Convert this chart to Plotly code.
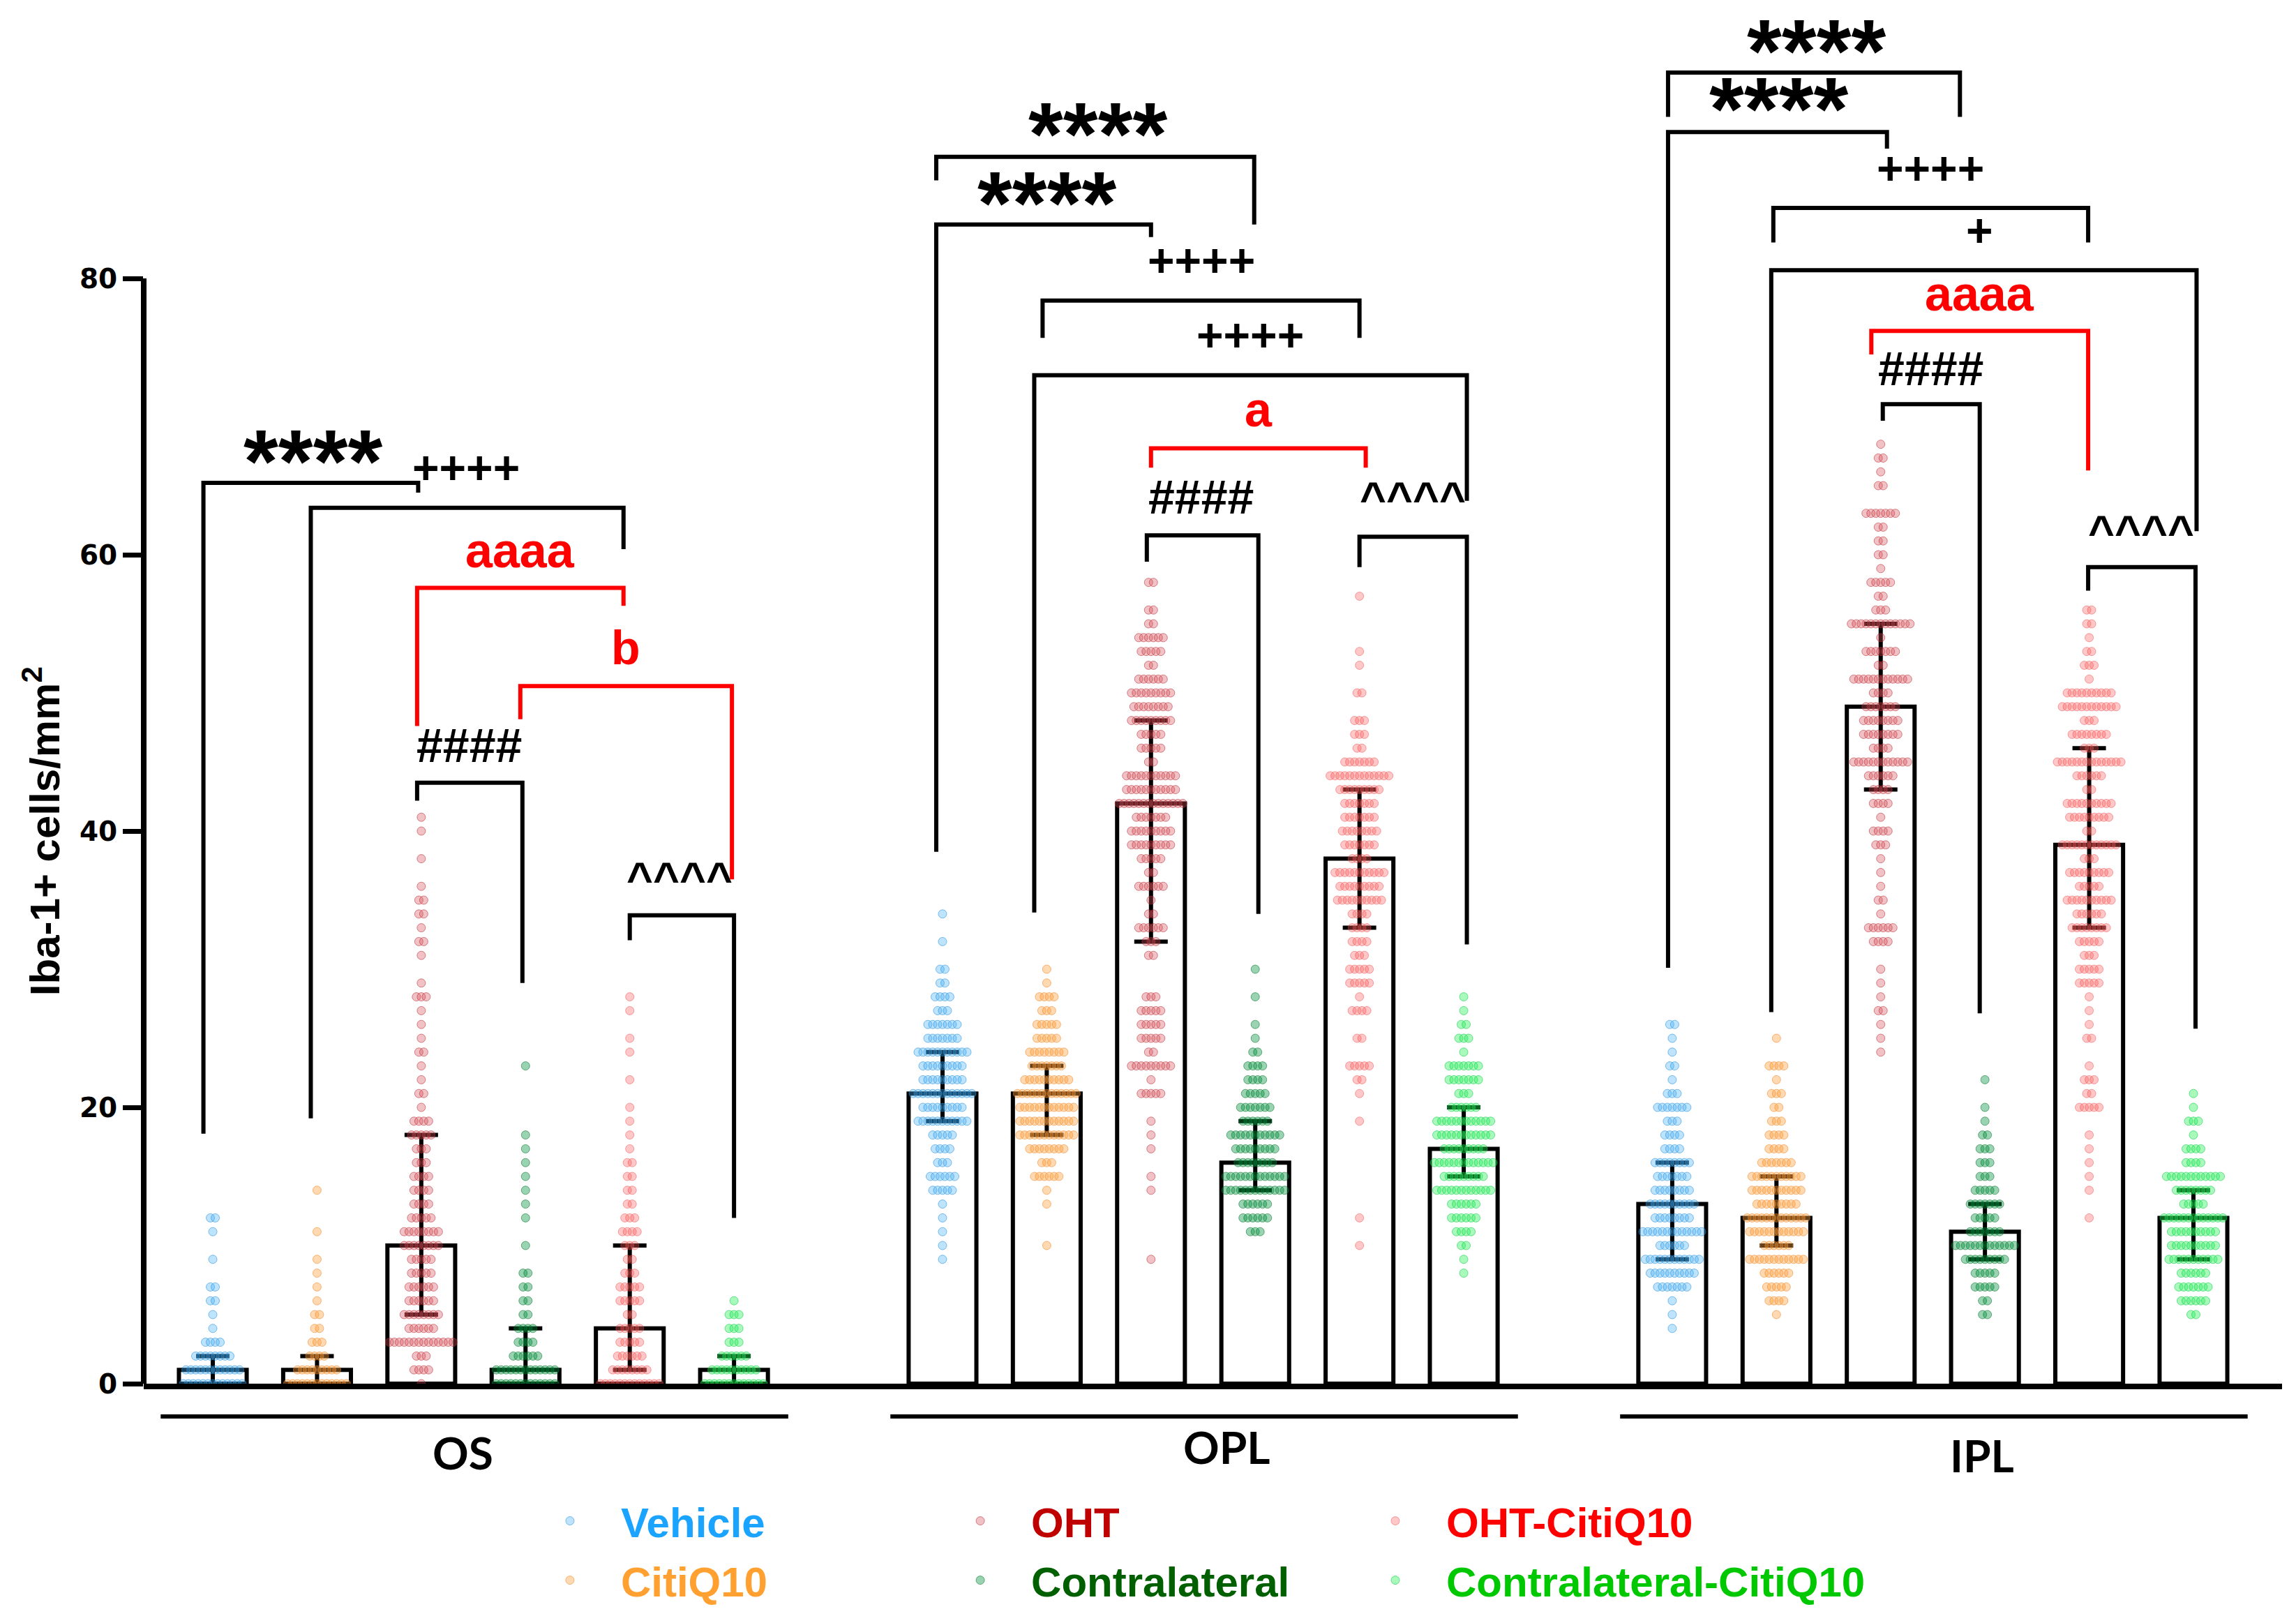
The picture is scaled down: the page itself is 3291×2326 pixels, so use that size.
import plotly.graph_objects as go

# ---------------- data ----------------
GROUPS = ["Vehicle", "CitiQ10", "OHT", "Contralateral", "OHT-CitiQ10", "Contralateral-CitiQ10"]
REGIONS = ["OS", "OPL", "IPL"]

# bar heights (median) and error-bar limits (interquartile range)
OS_MEDIAN = [1, 1, 10, 1, 4, 1]
OS_Q1 = [0, 0, 5, 0, 1, 0]
OS_Q3 = [2, 2, 18, 4, 10, 2]
OPL_MEDIAN = [21, 21, 42, 16, 38, 17]
OPL_Q1 = [19, 18, 32, 14, 33, 15]
OPL_Q3 = [24, 23, 48, 19, 43, 20]
IPL_MEDIAN = [13, 12, 49, 11, 39, 12]
IPL_Q1 = [9, 10, 43, 9, 33, 9]
IPL_Q3 = [16, 15, 55, 13, 46, 14]

# individual points: (value, number of points with that value)
OS_VEHICLE = [(0, 13), (1, 12), (2, 8), (3, 4), (4, 1), (5, 1), (6, 2), (7, 2), (9, 1), (11, 1), (12, 2)]
OS_CITIQ10 = [(0, 13), (1, 9), (2, 4), (3, 3), (4, 2), (5, 2), (6, 1), (7, 1), (8, 1), (9, 1), (11, 1), (14, 1)]
OS_OHT = [(0, 1), (1, 4), (2, 3), (3, 14), (4, 6), (5, 8), (6, 6), (7, 6), (8, 5), (9, 5), (10, 8), (11, 8),
          (12, 5), (13, 4), (14, 4), (15, 4), (16, 3), (17, 3), (18, 5), (19, 4), (20, 1), (21, 2), (22, 1),
          (23, 1), (24, 2), (25, 1), (26, 1), (27, 1), (28, 3), (29, 1), (31, 1), (32, 2), (33, 1), (34, 2),
          (35, 2), (36, 1), (38, 1), (40, 1), (41, 1)]
OS_CONTRA = [(0, 13), (1, 13), (2, 6), (3, 4), (4, 4), (5, 2), (6, 2), (7, 2), (8, 2), (10, 1), (12, 1),
             (13, 1), (14, 1), (15, 1), (16, 1), (17, 1), (18, 1), (23, 1)]
OS_OHTC = [(0, 13), (1, 8), (2, 6), (3, 5), (4, 5), (5, 2), (6, 5), (7, 5), (8, 3), (9, 2), (10, 3), (11, 4),
           (12, 3), (13, 2), (14, 2), (15, 2), (16, 2), (17, 1), (18, 1), (19, 1), (20, 1), (22, 1), (24, 1),
           (25, 1), (27, 1), (28, 1)]
OS_CONTRAC = [(0, 13), (1, 10), (2, 6), (3, 3), (4, 3), (5, 3), (6, 1)]

OPL_VEHICLE = [(9, 1), (10, 1), (11, 1), (12, 1), (13, 1), (14, 5), (15, 6), (16, 3), (17, 4), (18, 5),
               (19, 11), (20, 9), (21, 13), (22, 9), (23, 9), (24, 11), (25, 7), (26, 7), (27, 3), (28, 4),
               (29, 2), (30, 2), (32, 1), (34, 1)]
OPL_CITIQ10 = [(10, 1), (13, 1), (14, 1), (15, 6), (16, 3), (17, 8), (18, 12), (19, 12), (20, 12), (21, 13),
               (22, 10), (23, 7), (24, 8), (25, 5), (26, 5), (27, 3), (28, 4), (29, 1), (30, 1)]
OPL_OHT = [(9, 1), (14, 1), (15, 1), (17, 1), (18, 1), (19, 1), (21, 5), (22, 1), (23, 9), (24, 2), (25, 5),
           (26, 5), (27, 5), (28, 3), (31, 2), (32, 3), (33, 6), (34, 2), (35, 1), (36, 6), (37, 2), (38, 5),
           (39, 9), (40, 9), (41, 7), (42, 14), (43, 11), (44, 11), (45, 2), (46, 5), (47, 5), (48, 9),
           (49, 8), (50, 9), (51, 6), (52, 2), (53, 5), (54, 6), (55, 2), (56, 2), (58, 2)]
OPL_CONTRA = [(11, 3), (12, 6), (13, 6), (14, 13), (15, 13), (16, 8), (17, 9), (18, 11), (19, 6), (20, 7),
              (21, 5), (22, 4), (23, 4), (24, 2), (25, 1), (26, 1), (28, 1), (30, 1)]
OPL_OHTC = [(10, 1), (12, 1), (19, 1), (21, 1), (22, 2), (23, 5), (25, 2), (27, 4), (28, 1), (29, 5), (30, 5),
            (31, 3), (32, 4), (33, 4), (34, 4), (35, 10), (36, 9), (37, 11), (38, 4), (39, 7), (40, 8),
            (41, 7), (42, 7), (43, 9), (44, 13), (45, 7), (46, 2), (47, 3), (48, 3), (50, 2), (52, 1),
            (53, 1), (57, 1)]
OPL_CONTRAC = [(8, 1), (9, 1), (10, 2), (11, 4), (12, 6), (13, 6), (14, 12), (15, 9), (16, 13), (17, 9),
               (18, 12), (19, 12), (20, 6), (21, 3), (22, 7), (23, 7), (24, 1), (25, 3), (26, 2), (27, 1),
               (28, 1)]

IPL_VEHICLE = [(4, 1), (5, 1), (6, 1), (7, 7), (8, 10), (9, 12), (10, 6), (11, 13), (12, 8), (13, 10),
               (14, 8), (15, 7), (16, 8), (17, 4), (18, 4), (19, 3), (20, 7), (21, 3), (22, 1), (23, 2),
               (24, 1), (25, 1), (26, 2)]
IPL_CITIQ10 = [(5, 1), (6, 4), (7, 5), (8, 6), (9, 12), (10, 6), (11, 12), (12, 13), (13, 9), (14, 11),
               (15, 11), (16, 7), (17, 4), (18, 4), (19, 3), (20, 2), (21, 3), (22, 1), (23, 4), (25, 1)]
IPL_OHT = [(24, 1), (25, 1), (26, 1), (27, 2), (28, 1), (29, 1), (30, 1), (32, 4), (33, 6), (34, 1), (35, 2),
           (36, 1), (37, 1), (38, 1), (39, 3), (40, 4), (41, 1), (42, 4), (43, 4), (44, 6), (45, 12), (46, 4),
           (47, 8), (48, 8), (49, 7), (50, 4), (51, 12), (52, 2), (53, 7), (54, 1), (55, 13), (56, 3), (57, 2),
           (58, 5), (59, 1), (60, 2), (61, 2), (62, 2), (63, 7), (65, 2), (66, 1), (67, 2), (68, 1)]
IPL_CONTRA = [(5, 2), (6, 2), (7, 5), (8, 5), (9, 9), (10, 13), (11, 7), (12, 5), (13, 7), (14, 5), (15, 3),
              (16, 3), (17, 3), (18, 2), (19, 1), (20, 1), (22, 1)]
IPL_OHTC = [(12, 1), (14, 1), (15, 1), (16, 1), (17, 1), (18, 1), (20, 5), (21, 2), (22, 3), (23, 1), (25, 2),
            (26, 1), (27, 1), (28, 1), (29, 5), (30, 5), (31, 3), (32, 5), (33, 8), (34, 6), (35, 10), (36, 5),
            (37, 9), (38, 3), (39, 12), (40, 2), (41, 9), (42, 10), (43, 2), (44, 6), (45, 14), (46, 3),
            (47, 8), (48, 3), (49, 12), (50, 10), (51, 1), (52, 3), (53, 2), (54, 1), (55, 2), (56, 2)]
IPL_CONTRAC = [(5, 2), (6, 6), (7, 7), (8, 6), (9, 11), (10, 10), (11, 10), (12, 13), (13, 5), (14, 8),
               (15, 12), (16, 4), (17, 4), (18, 1), (19, 3), (20, 1), (21, 1)]

# significance brackets: (x_left, x_right, y_bar, y_left_end, y_right_end, colour)
BRACKETS = [
    (-0.09, 1.97, 65.2, 18.1, 64.5, "black"),
    (0.94, 3.94, 63.4, 19.2, 60.4, "black"),
    (1.96, 3.94, 57.6, 47.6, 56.3, "red"),
    (2.95, 4.98, 50.5, 48.1, 36.5, "red"),
    (1.96, 2.97, 43.5, 42.2, 29.0, "black"),
    (4.00, 5.00, 33.9, 32.1, 12.0, "black"),
    (6.94, 9.99, 88.8, 87.1, 83.9, "black"),
    (6.94, 9.00, 83.9, 38.5, 83.0, "black"),
    (7.96, 11.00, 78.4, 75.7, 75.7, "black"),
    (7.88, 12.03, 73.0, 34.1, 63.9, "black"),
    (9.00, 11.06, 67.7, 66.3, 66.3, "red"),
    (8.96, 10.03, 61.4, 59.5, 34.0, "black"),
    (11.00, 12.03, 61.3, 59.1, 31.8, "black"),
    (13.96, 16.76, 94.9, 91.7, 91.7, "black"),
    (13.96, 16.06, 90.6, 30.1, 89.4, "black"),
    (14.97, 17.99, 85.1, 82.6, 82.6, "black"),
    (14.95, 19.03, 80.6, 26.9, 61.7, "black"),
    (15.91, 17.99, 76.2, 74.5, 66.1, "red"),
    (16.02, 16.95, 70.9, 69.7, 26.8, "black"),
    (17.99, 19.02, 59.1, 57.4, 25.7, "black"),
]
# significance labels: (text, x, y of glyph centre, colour)
SIG_LABELS = [
    ("****", 0.96, 67.9, "black"), ("++++", 2.43, 66.3, "black"), ("aaaa", 2.95, 60.3, "red"),
    ("b", 3.96, 53.3, "red"), ("####", 2.46, 46.5, "black"), ("^^^^", 4.48, 37.5, "black"),
    ("****", 8.49, 91.6, "black"), ("****", 8.00, 86.6, "black"), ("++++", 9.48, 81.3, "black"),
    ("++++", 9.95, 75.9, "black"), ("a", 10.03, 70.5, "red"), ("####", 9.48, 64.5, "black"),
    ("^^^^", 11.51, 65.0, "black"),
    ("****", 15.38, 97.6, "black"), ("****", 15.02, 93.4, "black"), ("++++", 16.48, 88.0, "black"),
    ("+", 16.95, 83.5, "black"), ("aaaa", 16.95, 78.9, "red"), ("####", 16.48, 73.8, "black"),
    ("^^^^", 18.50, 62.6, "black"),
]
Y_TICKS = [0, 20, 40, 60, 80]
REGION_LABEL_X = [2.40, 9.73, 16.97]

# ---------------- styling ----------------
DOT_FILL = ["rgba(70,175,245,0.35)", "rgba(255,160,60,0.40)", "rgba(215,80,90,0.35)",
            "rgba(0,145,60,0.40)", "rgba(255,95,95,0.35)", "rgba(40,240,90,0.40)"]
DOT_LINE = ["rgba(30,140,220,0.55)", "rgba(240,130,30,0.55)", "rgba(185,40,50,0.55)",
            "rgba(0,115,40,0.55)", "rgba(235,60,60,0.45)", "rgba(0,205,60,0.55)"]
LEGEND_TXT = ["#1aa3ff", "#ffa030", "#c00000", "#006000", "#ff0000", "#00c800"]
LEGEND_ID = ["legend", "legend", "legend2", "legend2", "legend3", "legend3"]
RED = "#ff0000"
FONT = "Liberation Sans, Arial, sans-serif"

REGION_START = [0, 7, 14]
DOT_STEP = 0.0469
BAR_W = 0.65
PX_PER_UNIT = 19.8
PLOT_H = 1975.0

medians = OS_MEDIAN + OPL_MEDIAN + IPL_MEDIAN
q1 = OS_Q1 + OPL_Q1 + IPL_Q1
q3 = OS_Q3 + OPL_Q3 + IPL_Q3
slots = [REGION_START[r] + g for r in range(3) for g in range(6)]
dots_by_group = [
    [OS_VEHICLE, OPL_VEHICLE, IPL_VEHICLE],
    [OS_CITIQ10, OPL_CITIQ10, IPL_CITIQ10],
    [OS_OHT, OPL_OHT, IPL_OHT],
    [OS_CONTRA, OPL_CONTRA, IPL_CONTRA],
    [OS_OHTC, OPL_OHTC, IPL_OHTC],
    [OS_CONTRAC, OPL_CONTRAC, IPL_CONTRAC],
]


def swarm(slot, pairs):
    xs, ys = [], []
    for v, n in pairs:
        for i in range(n):
            xs.append(slot + (i - (n - 1) / 2) * DOT_STEP)
            ys.append(v)
    return xs, ys


fig = go.Figure()
fig.add_trace(go.Bar(
    x=slots, y=medians, width=BAR_W, showlegend=False,
    marker=dict(color="white", line=dict(color="black", width=6)),
    error_y=dict(type="data", symmetric=False,
                 array=[b - a for a, b in zip(medians, q3)],
                 arrayminus=[a - b for a, b in zip(medians, q1)],
                 color="black", thickness=6, width=24),
    hoverinfo="skip",
))

for g, name in enumerate(GROUPS):
    xs, ys = [], []
    for r in range(3):
        x, y = swarm(REGION_START[r] + g, dots_by_group[g][r])
        xs += x
        ys += y
    fig.add_trace(go.Scatter(
        x=xs, y=ys, mode="markers", cliponaxis=False,
        name="<b><span style='color:%s'>%s</span></b>" % (LEGEND_TXT[g], name),
        legend=LEGEND_ID[g], legendgroup="g%d" % g,
        marker=dict(size=12, color=DOT_FILL[g], line=dict(color=DOT_LINE[g], width=1)),
    ))

shapes = []
for x1, x2, yb, ya, yc, col in BRACKETS:
    c = RED if col == "red" else "black"
    shapes.append(dict(type="path", xref="x", yref="y",
                       path="M %f,%f L %f,%f L %f,%f L %f,%f" % (x1, ya, x1, yb, x2, yb, x2, yc),
                       line=dict(color=c, width=6)))
# y axis line from 0 to 80
shapes.append(dict(type="line", xref="paper", yref="y", x0=0, x1=0, y0=0, y1=Y_TICKS[-1],
                   line=dict(color="black", width=8)))
# region underlines
UNDER_Y = -47 / PLOT_H
for r in range(3):
    shapes.append(dict(type="line", xref="x", yref="paper",
                       x0=REGION_START[r] - 0.5, x1=REGION_START[r] + 5.52, y0=UNDER_Y, y1=UNDER_Y,
                       line=dict(color="black", width=6)))

annotations = []
SIZE = {"*": 128, "+": 66, "#": 68, "^": 65, "a": 70, "b": 68}
SHIFT = {"*": 0.173, "+": 0.0, "#": 0.087, "^": 0.27, "a": 0.0, "b": 0.0}
for txt, x, y, col in SIG_LABELS:
    ch = txt[0]
    f = SIZE[ch]
    annotations.append(dict(text="<b>%s</b>" % txt, x=x, y=y - SHIFT[ch] * f / PX_PER_UNIT,
                            xref="x", yref="y", showarrow=False, xanchor="center", yanchor="middle",
                            font=dict(family=FONT, size=f, color=RED if col == "red" else "black")))
REGION_LABEL_PX = [98, 90, 102]  # below the x axis
for r, lab in enumerate(REGIONS):
    annotations.append(dict(text="<b>%s</b>" % lab, x=REGION_LABEL_X[r], y=-REGION_LABEL_PX[r] / PLOT_H,
                            xref="x", yref="paper", showarrow=False, xanchor="center", yanchor="middle",
                            font=dict(family="Lato, Open Sans, sans-serif", size=64, color="black")))
annotations.append(dict(text="<b>Iba-1+ cells/mm<sup>2</sup></b>", textangle=-90, x=-0.0476, y=40.0,
                        xref="paper", yref="y", showarrow=False, xanchor="center", yanchor="middle",
                        font=dict(family=FONT, size=60, color="black")))

legend_common = dict(orientation="v", xanchor="left", yanchor="top", y=-0.0765,
                     font=dict(family=FONT, size=60), itemwidth=136, tracegroupgap=4,
                     traceorder="grouped", bgcolor="rgba(0,0,0,0)", borderwidth=0)

fig.update_layout(
    width=3291, height=2326,
    margin=dict(l=198, r=28, t=0, b=351),
    paper_bgcolor="white", plot_bgcolor="white",
    shapes=shapes, annotations=annotations,
    legend=dict(x=0.1755, **legend_common),
    legend2=dict(x=0.3674, **legend_common),
    legend3=dict(x=0.5615, **legend_common),
    xaxis=dict(range=[-0.6627, 19.85], showline=True, linewidth=8, linecolor="black",
               showticklabels=False, ticks="", showgrid=False, zeroline=False),
    yaxis=dict(range=[0, 99.75], showline=False, tickvals=Y_TICKS, ticks="outside", ticklen=29,
               tickwidth=7, tickcolor="black", showgrid=False, zeroline=False,
               tickfont=dict(family="DejaVu Sans, Verdana, sans-serif", size=39, color="black",
                             weight="bold")),
)

fig.write_html("out.html")
